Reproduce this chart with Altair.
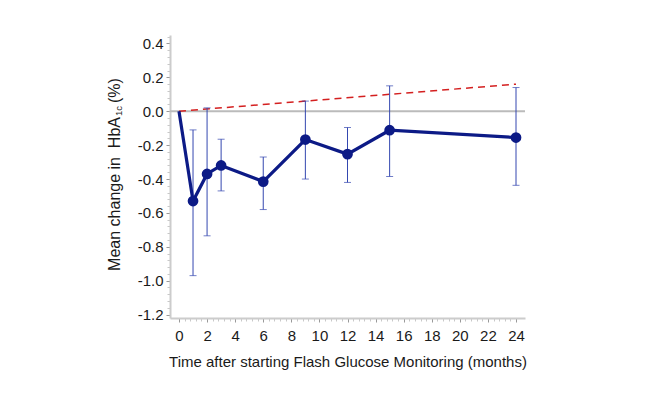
import altair as alt
import pandas as pd

# Data
months = [0, 1, 2, 3, 6, 9, 12, 15, 24]
mean_change = [0.0, -0.53, -0.37, -0.32, -0.415, -0.167, -0.253, -0.112, -0.155]
err_months = [1, 2, 3, 6, 9, 12, 15, 24]
err_upper = [-0.11, 0.02, -0.165, -0.27, 0.06, -0.096, 0.15, 0.14]
err_lower = [-0.97, -0.735, -0.47, -0.58, -0.40, -0.42, -0.385, -0.437]
ref_months = [0, 24]
ref_change = [0.0, 0.16]

x_ticks = [round(i * 0.4, 2) for i in range(0, 61)]
y_ticks = [round(-1.2 + i * 0.04, 2) for i in range(0, 42)]

df_line = pd.DataFrame({"m": months, "v": mean_change})
df_pts = pd.DataFrame({"m": months[1:], "v": mean_change[1:]})
df_err = pd.DataFrame({"m": err_months, "lo": err_lower, "hi": err_upper})
df_ref = pd.DataFrame({"m": ref_months, "v": ref_change})

FONT = "Liberation Sans"
NAVY = "#0c1a86"
ERR = "#3447b0"
TXT = "#1a1a1a"

x_major = "abs(datum.value/2 - round(datum.value/2)) < 0.001"
y_major = "abs(datum.value*5 - round(datum.value*5)) < 0.001"

x_scale = alt.Scale(domain=[-0.64, 24.64], nice=False, zero=False)
y_scale = alt.Scale(domain=[-1.22, 0.45], nice=False, zero=False)

x_axis = alt.Axis(
    values=x_ticks,
    labelExpr=f"{x_major} ? format(datum.value, 'd') : ''",
    title="Time after starting Flash Glucose Monitoring (months)",
    grid=False,
    domainColor="#cccccc", domainWidth=2,
    tickColor={"condition": {"test": x_major, "value": "#999999"}, "value": "#c8c8c8"},
    tickSize={"condition": {"test": x_major, "value": 4}, "value": 3},
    labelFont=FONT, labelFontSize=15, labelColor=TXT, labelPadding=6,
    labelFlush=False, labelOverlap=False,
    titleFont=FONT, titleFontSize=15, titleFontWeight="normal", titleColor=TXT,
    titlePadding=11,
)
y_axis = alt.Axis(
    values=y_ticks,
    labelExpr=f"{y_major} ? replace(format(datum.value, '.1f'), '\u2212', '-') : ''",
    title=None,
    grid=False,
    domainColor="#cccccc", domainWidth=2,
    tickColor={"condition": {"test": y_major, "value": "#999999"}, "value": "#c8c8c8"},
    tickSize={"condition": {"test": y_major, "value": 4}, "value": 3},
    labelFont=FONT, labelFontSize=15, labelColor=TXT, labelPadding=3,
    labelFlush=False, labelOverlap=False,
)

base_x = alt.X("m:Q", scale=x_scale, axis=x_axis)
base_y = alt.Y("v:Q", scale=y_scale, axis=y_axis)

zero = alt.Chart(pd.DataFrame({"z": [0]})).mark_rule(color="#bbbbbb", strokeWidth=2).encode(
    y=alt.Y("z:Q", scale=y_scale, axis=y_axis)
)

ref = alt.Chart(df_ref).mark_line(color="#d42020", strokeWidth=1.5, strokeDash=[7, 5]).encode(
    x=base_x, y=base_y
)

err_rule = alt.Chart(df_err).mark_rule(color=ERR, strokeWidth=1).encode(
    x=alt.X("m:Q", scale=x_scale, axis=x_axis),
    y=alt.Y("lo:Q", scale=y_scale, axis=y_axis),
    y2="hi:Q",
)
cap_lo = alt.Chart(df_err).mark_tick(color=ERR, thickness=1, size=7, orient="horizontal").encode(
    x=alt.X("m:Q", scale=x_scale, axis=x_axis),
    y=alt.Y("lo:Q", scale=y_scale, axis=y_axis),
)
cap_hi = alt.Chart(df_err).mark_tick(color=ERR, thickness=1, size=7, orient="horizontal").encode(
    x=alt.X("m:Q", scale=x_scale, axis=x_axis),
    y=alt.Y("hi:Q", scale=y_scale, axis=y_axis),
)

line = alt.Chart(df_line).mark_line(color=NAVY, strokeWidth=3.2).encode(x=base_x, y=base_y)
pts = alt.Chart(df_pts).mark_circle(color=NAVY, size=115, opacity=1).encode(x=base_x, y=base_y)

# Y-axis title with subscript, drawn as rotated text
t_main = alt.Chart(pd.DataFrame({"t": ["Mean change in\u00a0 HbA"]})).mark_text(
    angle=270, align="right", baseline="middle", font=FONT, fontSize=16, color=TXT
).encode(text="t:N", x=alt.value(-55), y=alt.value(82))
t_sub = alt.Chart(pd.DataFrame({"t": ["1c"]})).mark_text(
    angle=270, align="left", baseline="middle", font=FONT, fontSize=9.5, color=TXT
).encode(text="t:N", x=alt.value(-51), y=alt.value(81))
t_pct = alt.Chart(pd.DataFrame({"t": ["(%)"]})).mark_text(
    angle=270, align="left", baseline="middle", font=FONT, fontSize=16, color=TXT
).encode(text="t:N", x=alt.value(-55), y=alt.value(68))

chart = alt.layer(zero, ref, err_rule, cap_lo, cap_hi, line, pts, t_main, t_sub, t_pct).properties(
    width=355, height=283,
    autosize=alt.AutoSizeParams(type="none"),
    padding={"left": 162, "top": 27, "right": 100, "bottom": 60},
).configure_view(stroke=None)

chart.save("out.html", embed_options={"renderer": "svg", "actions": False})
